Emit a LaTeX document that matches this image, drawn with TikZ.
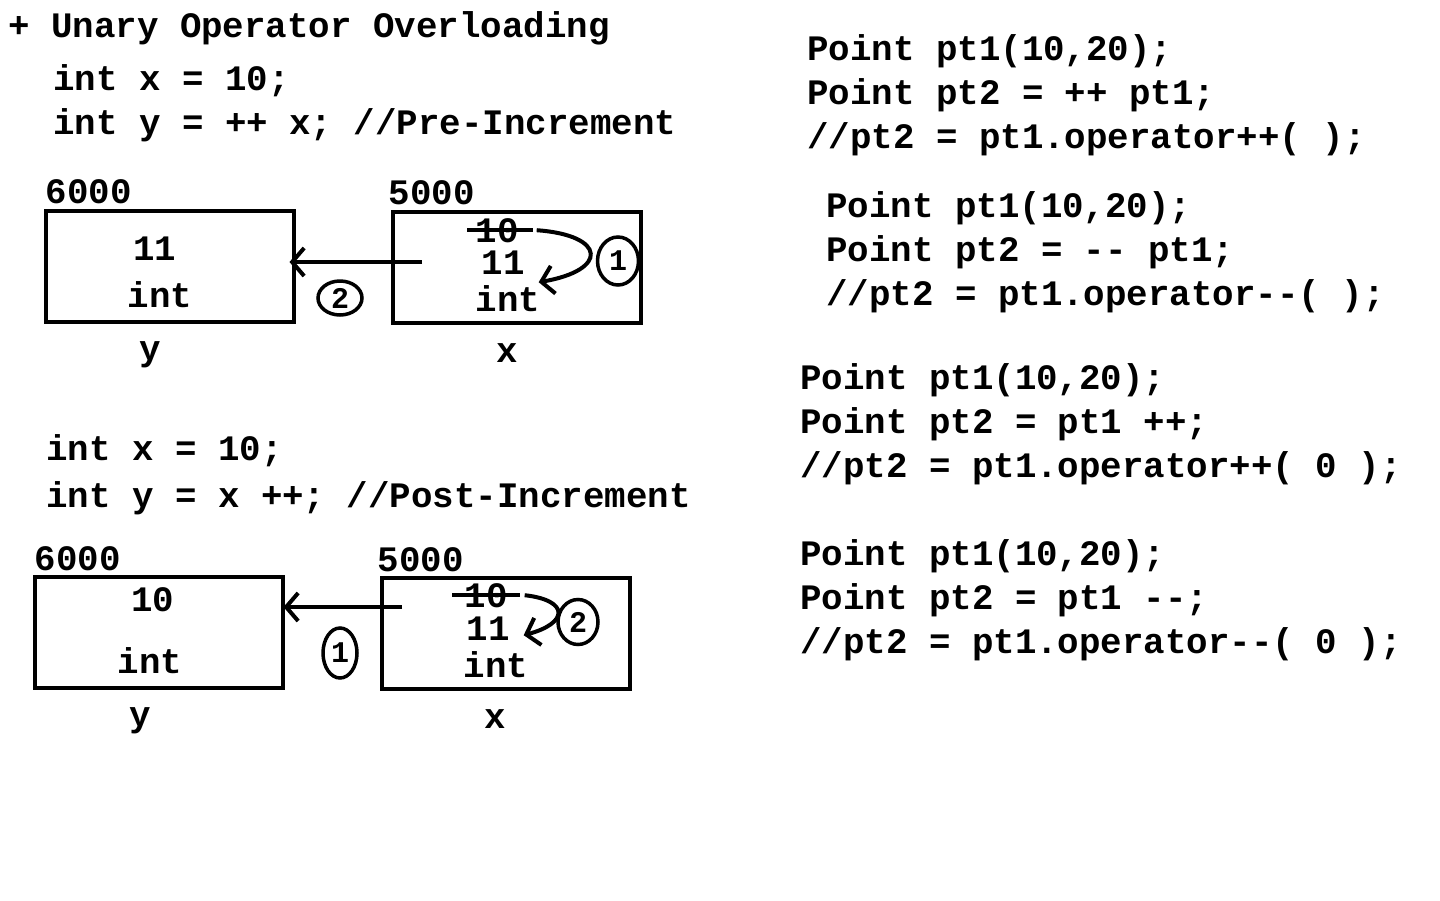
\documentclass[tikz,border=0pt]{standalone}
\usepackage{fontspec}
\setmonofont{Liberation Mono}
\usetikzlibrary{positioning,shapes.geometric,arrows.meta}

\begin{document}
\begin{tikzpicture}[x=1pt, y=-1pt,
  every node/.style={font=\ttfamily\bfseries\fontsize{35.8}{44}\selectfont, inner sep=0pt},
  code/.style={anchor=base west},
  val/.style={anchor=base},
  cell/.style={rectangle, draw, line width=4pt, minimum width=248pt, minimum height=111pt},
  stepmark/.style={ellipse, draw, line width=3.5pt, font=\ttfamily\bfseries\fontsize{30}{30}\selectfont},
  arrow/.style={line width=4pt, -{Straight Barb[length=12pt,width=28pt]}},
  strike/.style={line width=3.5pt}]

  \useasboundingbox (0,0) rectangle (1440,900);

  % pre-increment
  \node[code] (title) at (8,37) {+ Unary Operator Overloading};
  \node[code] (pre1) at (53,90) {int x = 10;};
  \node[code] (pre2) at (53,134) {int y = ++ x; //Pre-Increment};

  \node[cell] (celly1) at (169.5,266) {};
  \node[cell] (cellx1) at (516.5,267) {};
  \node[above right=4pt and 2pt of celly1.north west] (addry1) {6000};
  \node[above right=4pt and -2pt of cellx1.north west] (addrx1) {5000};

  \node[val] (valy1) at (155,260) {11};
  \node[val] (inty1) at (160,307) {int};
  \node[val] (oldx1) at (497,242) {10};
  \node[val] (newx1) at (503,274) {11};
  \node[val] (intx1) at (508,311) {int};
  \draw[strike] ([xshift=-8pt]oldx1.west) -- ([xshift=14pt]oldx1.east);
  \draw[arrow] ([xshift=18pt]oldx1.east) .. controls +(70,5) and +(70,-12) .. ([xshift=14pt,yshift=-8pt]newx1.south east);

  \node[stepmark, minimum width=41pt, minimum height=48pt] (stepa1) at (618,261) {1};
  \node[stepmark, minimum width=44pt, minimum height=34pt] (stepa2) at (340,298) {2};

  \coordinate (srcx1) at (422,262);
  \draw[arrow] (srcx1) -- ([xshift=-6pt]celly1.east |- srcx1);

  \node[val] (namey1) at (150,360) {y};
  \node[val] (namex1) at (507,362) {x};

  % post-increment
  \node[code] (post1) at (46,460) {int x = 10;};
  \node[code] (post2) at (46,507) {int y = x ++; //Post-Increment};

  \node[cell] (celly2) at (158.5,632.5) {};
  \node[cell] (cellx2) at (505.5,633.5) {};
  \node[above right=4pt and 2pt of celly2.north west] (addry2) {6000};
  \node[above right=4pt and -2pt of cellx2.north west] (addrx2) {5000};

  \node[val] (valy2) at (153,611) {10};
  \node[val] (inty2) at (150,673) {int};
  \node[val] (oldx2) at (486,607) {10};
  \node[val] (newx2) at (488,640) {11};
  \node[val] (intx2) at (496,677) {int};
  \draw[strike] ([xshift=-12pt]oldx2.west) -- ([xshift=12pt]oldx2.east);
  \draw[arrow] ([xshift=17pt]oldx2.east) .. controls +(45,5) and +(45,-12) .. ([xshift=14pt,yshift=5pt]newx2.south east);

  \node[stepmark, minimum width=40pt, minimum height=45pt] (stepb2) at (578,622) {2};
  \node[stepmark, minimum width=34pt, minimum height=50pt] (stepb1) at (340,653) {1};

  \coordinate (srcx2) at (402,607);
  \draw[arrow] (srcx2) -- ([xshift=-1pt]celly2.east |- srcx2);

  \node[val] (namey2) at (140,726) {y};
  \node[val] (namex2) at (495,728) {x};

  % operator calls
  \node[code] (ppre1) at (807,60) {Point pt1(10,20);};
  \node[code] (ppre2) at (807,104) {Point pt2 = ++ pt1;};
  \node[code] (ppre3) at (807,148) {//pt2 = pt1.operator++( );};

  \node[code] (mpre1) at (826,217) {Point pt1(10,20);};
  \node[code] (mpre2) at (826,261) {Point pt2 = -{}- pt1;};
  \node[code] (mpre3) at (826,305) {//pt2 = pt1.operator-{}-( );};

  \node[code] (ppost1) at (800,389) {Point pt1(10,20);};
  \node[code] (ppost2) at (800,433) {Point pt2 = pt1 ++;};
  \node[code] (ppost3) at (800,477) {//pt2 = pt1.operator++( 0 );};

  \node[code] (mpost1) at (800,565) {Point pt1(10,20);};
  \node[code] (mpost2) at (800,609) {Point pt2 = pt1 -{}-;};
  \node[code] (mpost3) at (800,653) {//pt2 = pt1.operator-{}-( 0 );};

\end{tikzpicture}
\end{document}
